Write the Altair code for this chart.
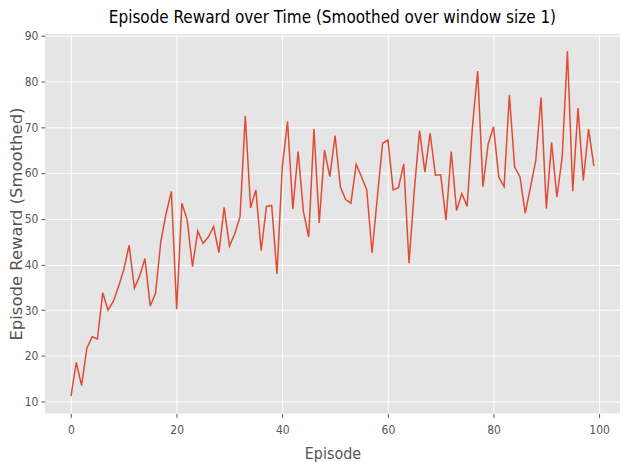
import altair as alt
import pandas as pd

episodes = list(range(100))
rewards = [
    11.2, 18.6, 13.5, 21.7, 24.2, 23.7, 33.8, 30.0, 31.9, 35.2,
    38.9, 44.2, 34.8, 37.5, 41.3, 30.9, 33.7, 45.0, 51.1, 56.0,
    30.2, 53.4, 49.7, 39.5, 47.3, 44.6, 46.0, 48.3, 42.6, 52.5,
    44.0, 46.7, 50.4, 72.5, 52.4, 56.3, 43.0, 52.7, 52.9, 37.9,
    61.3, 71.3, 52.1, 64.7, 51.6, 46.0, 69.6, 49.1, 65.0, 59.2,
    68.2, 57.0, 54.2, 53.4, 61.9, 59.2, 56.3, 42.5, 54.7, 66.5,
    67.2, 56.3, 56.8, 62.0, 40.3, 56.2, 69.3, 60.2, 68.7, 59.5,
    59.6, 49.7, 64.7, 51.8, 55.5, 52.7, 70.0, 82.3, 57.0, 66.4,
    70.1, 59.1, 57.0, 77.1, 61.3, 59.2, 51.2, 56.9, 62.7, 76.5,
    52.2, 66.7, 54.7, 63.4, 86.7, 56.0, 74.2, 58.4, 69.6, 61.5,
]
x_ticks = [0, 20, 40, 60, 80, 100]
y_ticks = [10, 20, 30, 40, 50, 60, 70, 80, 90]

df = pd.DataFrame({"Episode": episodes, "Reward": rewards})

ymin, ymax = min(rewards), max(rewards)
ym = (ymax - ymin) * 0.05
xm = (max(episodes) - min(episodes)) * 0.05

COND = "DejaVu Sans Condensed, Liberation Sans Narrow, DejaVu Sans, sans-serif"

chart = alt.Chart(df).mark_line(color="#E24A33", strokeWidth=1.5, clip=True).encode(
    x=alt.X(
        "Episode:Q",
        scale=alt.Scale(domain=[min(episodes) - xm, max(episodes) + xm], nice=False, zero=False),
        axis=alt.Axis(values=x_ticks, title="Episode", titleFont=COND, titleFontSize=16,
                      titleFontWeight="normal", titleColor="#555555", titlePadding=10,
                      labelPadding=7),
    ),
    y=alt.Y(
        "Reward:Q",
        scale=alt.Scale(domain=[ymin - ym, ymax + ym], nice=False, zero=False),
        axis=alt.Axis(values=y_ticks, title="Episode Reward (Smoothed)", titleFont="DejaVu Sans",
                      titleFontSize=16.5, titleFontWeight="normal", titleColor="#555555",
                      titlePadding=0, labelPadding=3),
    ),
).properties(
    width=577,
    height=381,
    title=alt.TitleParams(
        "Episode Reward over Time (Smoothed over window size 1)",
        font=COND, fontSize=17, fontWeight="normal", color="#000000",
        anchor="middle", offset=3,
    ),
    autosize=alt.AutoSizeParams(type="none"),
    padding={"left": 37, "top": 25, "right": 0, "bottom": 48},
).configure_view(
    fill="#E5E5E5", stroke=None
).configure_axis(
    grid=True, gridColor="#FFFFFF", gridWidth=1, domain=False,
    tickColor="#555555", tickSize=4, tickWidth=1,
    labelFont=COND, labelFontSize=12, labelColor="#555555",
)

chart.save("out.html", embed_options={"renderer": "svg", "actions": False})
